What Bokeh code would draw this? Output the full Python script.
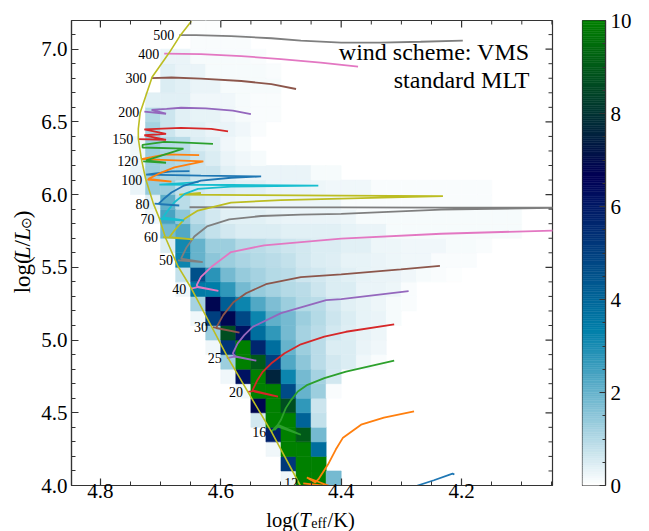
import numpy as np
from bokeh.plotting import figure
from bokeh.models import (Range1d, FixedTicker, PrintfTickFormatter,
                          LinearColorMapper, ColumnDataSource, Label)
from bokeh.layouts import row, column
from bokeh.embed import file_html
from bokeh.resources import INLINE
from bokeh.core.properties import value

# ------------------------------------------------------------------ data
# 2D histogram: columns of 0.025 dex in log Teff starting at 4.75 (going cooler),
# rows of 0.1 dex in log L starting at 4.0.  Each row: (first column, values)
HIST_T0 = 4.75
HIST_DT = 0.025
HIST_L0 = 4.0
HIST_DL = 0.1
HIST_ROWS = [
    (10, [0.2, 10, 10, 1.8]),
    (10, [5.2, 10, 10]),
    (9, [0.2, 10, 10, 3.8]),
    (9, [5.8, 10, 9.0, 1.8]),
    (8, [0.6, 10, 10, 4.1, 0.8]),
    (8, [6.8, 10, 8.7, 2.7, 0.7]),
    (7, [0.2, 10, 10, 4.7, 2.0, 1.3, 0.1]),
    (6, [0.2, 6.2, 10, 7.6, 3.2, 1.8, 1.2, 0.6]),
    (6, [1.3, 10, 9.0, 5.0, 2.3, 1.5, 0.9, 0.6, 0.5, 0.2, 0.1]),
    (5, [0.2, 5.3, 10, 5.7, 3.8, 2.0, 1.3, 0.9, 0.5, 0.5, 0.3, 0.2]),
    (5, [1.3, 8.7, 6.2, 3.8, 2.7, 1.8, 1.2, 0.9, 0.6, 0.45, 0.35, 0.25]),
    (4, [0.2, 5.0, 6.8, 4.8, 3.2, 2.1, 1.8, 1.3, 1.0, 0.7, 0.5, 0.35, 0.3, 0.15]),
    (4, [1.2, 6.8, 4.2, 3.2, 2.3, 1.7, 1.3, 1.0, 0.9, 0.6, 0.4, 0.35, 0.25, 0.15, 0.1]),
    (3, [0.2, 3.5, 3.4, 2.7, 1.8, 1.4, 1.2, 1.0, 0.9, 0.7, 0.5, 0.5, 0.3, 0.3, 0.25, 0.1]),
    (3, [0.8, 4.6, 2.8, 1.8, 1.4, 1.2, 1.0, 0.9, 0.7, 0.6, 0.5, 0.4, 0.35, 0.3, 0.3, 0.2,
         0.15, 0.1, 0.05]),
    (3, [3.2, 2.0, 1.5, 1.3, 1.1, 1.0, 0.9, 0.8, 0.6, 0.5, 0.45, 0.35, 0.35, 0.3, 0.25, 0.2,
         0.2, 0.1, 0.1, 0.1]),
    (2, [0.5, 3.1, 2.0, 1.3, 1.3, 1.0, 0.9, 0.8, 0.7, 0.6, 0.5, 0.5, 0.4, 0.4, 0.25, 0.25,
         0.2, 0.2, 0.2, 0.15, 0.15, 0.1]),
    (2, [1.8, 2.3, 1.2, 0.8, 0.6, 0.5, 0.5, 0.5, 0.4, 0.4, 0.4, 0.4, 0.35, 0.3, 0.3, 0.12,
         0.12, 0.12, 0.12, 0.12, 0.12, 0.12, 0.12, 0.12]),
    (1, [0.2, 2.4, 1.5, 0.9, 0.6, 0.4, 0.4, 0.4, 0.35, 0.3, 0.3, 0.3, 0.3, 0.25, 0.12, 0.12,
         0.12, 0.12, 0.12, 0.12, 0.12, 0.12, 0.12, 0.12, 0.12]),
    (1, [0.4, 2.1, 0.9, 0.6, 0.5, 0.3, 0.25, 0.25, 0.25, 0.25, 0.25, 0.25, 0.25, 0.1, 0.1,
         0.1, 0.1, 0.1, 0.1, 0.1, 0.1, 0.1, 0.1]),
    (0, [0.3, 1.4, 1.3, 0.8, 0.6, 0.5, 0.5, 0.4, 0.4, 0.3, 0.3, 0.3, 0.25, 0.2, 0.2, 0.2,
         0.1, 0.1, 0.1, 0.1, 0.1, 0.1, 0.1, 0.1]),
    (0, [0.3, 1.3, 1.1, 1.1, 0.7, 0.7, 0.4, 0.3, 0.3, 0.3, 0.3, 0.3, 0.15, 0.15]),
    (0, [0.2, 1.3, 1.1, 1.0, 0.7, 0.5, 0.3, 0.2, 0.15]),
    (0, [0.2, 1.3, 1.0, 0.9, 0.5, 0.4, 0.2, 0.15]),
    (1, [1.2, 0.7, 0.4, 0.4, 0.3, 0.3, 0.2, 0.1]),
    (1, [1.0, 0.7, 0.4, 0.35, 0.35, 0.2, 0.15, 0.1, 0.1]),
    (1, [0.4, 0.4, 0.4, 0.2, 0.2, 0.2, 0.15, 0.1, 0.1]),
    (2, [0.5, 0.4, 0.3, 0.3, 0.15, 0.15, 0.15, 0.15]),
    (2, [0.4, 0.3, 0.3, 0.15, 0.15, 0.15, 0.15, 0.1]),
    (2, [0.3, 0.3, 0.15, 0.15, 0.15, 0.15, 0.1]),
    (4, [0.1, 0.1, 0.1, 0.1]),
    (4, [0.05, 0.05]),
]

ZAMS_T = [4.649, 4.667, 4.686, 4.714, 4.734, 4.737, 4.737, 4.732, 4.725, 4.712, 4.702,
          4.692, 4.672, 4.649, 4.614, 4.588, 4.555, 4.516, 4.468, 4.455]
ZAMS_L = [7.192, 7.096, 6.973, 6.808, 6.562, 6.452, 6.384, 6.247, 6.110, 5.938, 5.836,
          5.705, 5.514, 5.356, 5.082, 4.877, 4.644, 4.370, 4.0, 3.93]

MASSES = [9, 12, 16, 20, 25, 30, 40, 50, 60, 70, 80, 100, 120, 150, 200, 300, 400, 500]
TRACKS = {
    9: [(4.320, 3.930), (4.273, 4.0), (4.246, 4.036), (4.215, 4.082), (4.212, 4.076)],
    12: [(4.463, 4.014), (4.417, 3.993), (4.457, 4.055), (4.443, 4.021), (4.437, 4.048),
         (4.422, 4.144), (4.409, 4.247), (4.397, 4.329), (4.367, 4.418), (4.329, 4.466),
         (4.279, 4.509)],
    16: [(4.516, 4.370), (4.505, 4.418), (4.467, 4.349), (4.505, 4.405), (4.511, 4.380),
         (4.500, 4.452), (4.492, 4.532), (4.483, 4.589), (4.472, 4.646), (4.456, 4.692),
         (4.428, 4.738), (4.392, 4.783), (4.312, 4.858)],
    20: [(4.555, 4.644), (4.544, 4.650), (4.505, 4.611), (4.544, 4.646), (4.547, 4.658),
         (4.539, 4.726), (4.530, 4.783), (4.516, 4.840), (4.494, 4.909), (4.467, 4.971),
         (4.428, 5.023), (4.392, 5.057), (4.312, 5.108)],
    25: [(4.590, 4.875), (4.577, 4.886), (4.541, 4.858), (4.577, 4.890), (4.580, 4.909),
         (4.572, 4.977), (4.561, 5.034), (4.547, 5.091), (4.500, 5.185), (4.425, 5.274),
         (4.400, 5.281), (4.288, 5.336)],
    30: [(4.613, 5.089), (4.569, 5.051), (4.608, 5.082), (4.596, 5.171), (4.579, 5.260),
         (4.558, 5.322), (4.525, 5.384), (4.467, 5.432), (4.400, 5.452), (4.301, 5.486),
         (4.236, 5.510)],
    40: [(4.649, 5.354), (4.637, 5.365), (4.604, 5.338), (4.637, 5.362), (4.640, 5.377),
         (4.633, 5.434), (4.616, 5.502), (4.583, 5.605), (4.528, 5.651), (4.400, 5.697),
         (4.234, 5.731), (4.049, 5.753), (3.969, 5.760)],
    50: [(4.671, 5.548), (4.630, 5.536), (4.666, 5.560), (4.657, 5.637), (4.644, 5.712),
         (4.623, 5.781), (4.586, 5.829), (4.533, 5.853), (4.467, 5.863), (4.400, 5.868),
         (4.234, 5.897), (4.049, 5.909), (3.969, 5.911), (4.234, 5.911), (4.400, 5.912),
         (4.652, 5.913)],
    60: [(4.696, 5.708), (4.646, 5.692), (4.685, 5.708), (4.677, 5.753), (4.660, 5.834),
         (4.638, 5.890), (4.583, 5.945), (4.500, 5.962), (4.400, 5.973), (4.231, 5.990),
         (4.400, 5.993), (4.550, 5.997), (4.669, 6.000), (4.633, 6.011)],
    70: [(4.702, 5.834), (4.661, 5.822), (4.696, 5.844), (4.688, 5.890), (4.677, 5.947),
         (4.660, 6.005), (4.638, 6.039), (4.583, 6.055), (4.438, 6.062), (4.583, 6.066),
         (4.702, 6.068), (4.637, 6.086)],
    80: [(4.710, 5.938), (4.669, 5.925), (4.704, 5.935), (4.696, 5.966), (4.682, 6.014),
         (4.661, 6.062), (4.633, 6.096), (4.583, 6.116), (4.533, 6.125), (4.633, 6.130),
         (4.724, 6.137), (4.682, 6.160), (4.652, 6.161)],
    100: [(4.722, 6.103), (4.682, 6.089), (4.720, 6.108), (4.704, 6.142), (4.677, 6.187),
          (4.629, 6.228), (4.732, 6.244), (4.715, 6.257), (4.691, 6.277), (4.636, 6.272)],
    120: [(4.729, 6.229), (4.691, 6.219), (4.724, 6.236), (4.662, 6.316), (4.730, 6.324),
          (4.730, 6.342), (4.694, 6.363), (4.649, 6.356), (4.613, 6.349)],
    150: [(4.737, 6.381), (4.691, 6.377), (4.727, 6.408), (4.691, 6.418), (4.727, 6.449),
          (4.666, 6.459), (4.616, 6.452), (4.588, 6.435)],
    200: [(4.727, 6.570), (4.691, 6.556), (4.715, 6.583), (4.690, 6.590), (4.666, 6.597),
          (4.625, 6.593), (4.580, 6.578), (4.550, 6.553)],
    300: [(4.715, 6.801), (4.682, 6.805), (4.633, 6.798), (4.566, 6.781), (4.516, 6.760),
          (4.475, 6.726)],
    400: [(4.694, 6.969), (4.633, 6.966), (4.566, 6.952), (4.500, 6.932), (4.434, 6.908),
          (4.372, 6.880)],
    500: [(4.669, 7.096), (4.641, 7.096), (4.583, 7.089), (4.516, 7.075), (4.467, 7.058),
          (4.400, 7.045), (4.334, 7.045), (4.268, 7.051), (4.198, 7.058)],
}
TAB10 = ["#1f77b4", "#ff7f0e", "#2ca02c", "#d62728", "#9467bd",
         "#8c564b", "#e377c2", "#7f7f7f", "#bcbd22", "#17becf"]

X_RANGE = (4.848, 4.049)
Y_RANGE = (4.0, 7.197)
X_TICKS = [4.8, 4.6, 4.4, 4.2]
X_MINOR = [4.05, 4.1, 4.15, 4.25, 4.3, 4.35, 4.45, 4.5, 4.55, 4.65, 4.7, 4.75, 4.85]
Y_TICKS = [4.0, 4.5, 5.0, 5.5, 6.0, 6.5, 7.0]
Y_MINOR = [4.1, 4.2, 4.3, 4.4, 4.6, 4.7, 4.8, 4.9, 5.1, 5.2, 5.3, 5.4, 5.6, 5.7, 5.8,
           5.9, 6.1, 6.2, 6.3, 6.4, 6.6, 6.7, 6.8, 6.9, 7.1]
CB_TICKS = [0, 2, 4, 6, 8, 10]
CB_MINOR = [0.5, 1, 1.5, 2.5, 3, 3.5, 4.5, 5, 5.5, 6.5, 7, 7.5, 8.5, 9, 9.5]
NOTE_LINES = ["wind scheme: VMS", "standard MLT"]

# ------------------------------------------------------------------ colormap (ocean_r)
def ocean_r(n=256):
    out = []
    for i in range(n):
        x = 1.0 - i / (n - 1)
        r = min(max(3 * x - 2, 0), 1)
        g = min(max(abs((3 * x - 1) / 2), 0), 1)
        b = x
        out.append("#%02x%02x%02x" % (int(round(r * 255)), int(round(g * 255)),
                                      int(round(b * 255))))
    return out

PAL = ocean_r()
mapper = LinearColorMapper(palette=PAL, low=0, high=10)

FONT = "Liberation Serif"
AX = "#333333"
TOP_H = 508     # height of the row holding the plot and the colour bar

def strip(w, h):
    f = figure(width=w, height=h, output_backend="svg", toolbar_location=None,
               x_range=Range1d(0, w), y_range=Range1d(0, h),
               min_border=0, x_axis_location=None, y_axis_location=None,
               background_fill_color="white", border_fill_color="white")
    f.grid.visible = False
    f.outline_line_color = None
    return f

def put(f, text, x, y, size, style="normal", angle=0.0, align="left"):
    f.text(x=[x], y=[y], text=[text], text_font=value(FONT), text_font_size=size,
           text_font_style=style, angle=angle, text_align=align,
           text_baseline="middle", text_color="black")

# ------------------------------------------------------------------ main figure
p = figure(width=524, height=TOP_H, output_backend="svg", toolbar_location=None,
           x_range=Range1d(*X_RANGE), y_range=Range1d(*Y_RANGE),
           min_border_left=32, min_border_right=10, min_border_top=20,
           min_border_bottom=TOP_H - 486,
           background_fill_color="white", border_fill_color="white")
p.grid.visible = False
p.outline_line_color = AX
p.outline_line_width = 1.2

# histogram cells
left, right, bottom, top, val = [], [], [], [], []
for r, (c0, vals) in enumerate(HIST_ROWS):
    for j, v in enumerate(vals):
        if v <= 0:
            continue
        c = c0 + j
        left.append(HIST_T0 - HIST_DT * c)
        right.append(HIST_T0 - HIST_DT * (c + 1))
        bottom.append(HIST_L0 + HIST_DL * r)
        top.append(HIST_L0 + HIST_DL * (r + 1))
        val.append(v)
hsrc = ColumnDataSource(dict(left=left, right=right, bottom=bottom, top=top, v=val))
p.quad(left="left", right="right", bottom="bottom", top="top", source=hsrc,
       fill_color={"field": "v", "transform": mapper},
       line_color={"field": "v", "transform": mapper}, line_width=0.6)

# tracks
lab_t, lab_l, lab_txt = [], [], []
for i, m in enumerate(MASSES):
    pts = TRACKS[m]
    xs = [a for a, b in pts]
    ys = [b for a, b in pts]
    p.line(xs, ys, line_color=TAB10[i % 10], line_width=1.8)
    if ys[0] >= Y_RANGE[0]:
        lab_t.append(xs[0]); lab_l.append(ys[0]); lab_txt.append(str(m))

# ZAMS
p.line(ZAMS_T, ZAMS_L, line_color="#bcbd22", line_width=1.6)

# mass labels
lsrc = ColumnDataSource(dict(x=lab_t, y=lab_l, t=lab_txt))
p.text(x="x", y="y", text="t", source=lsrc, text_font=value(FONT), text_font_size="14px",
       text_align="right", text_baseline="middle", x_offset=-5, text_color="black")

# axes (bottom / left) with inward ticks
def style_axis(ax, standoff=4):
    ax.axis_line_color = AX
    ax.axis_line_width = 1.2
    ax.major_tick_line_color = AX
    ax.minor_tick_line_color = AX
    ax.major_tick_line_width = 1.2
    ax.minor_tick_line_width = 1.0
    ax.major_tick_in = 7
    ax.major_tick_out = 0
    ax.minor_tick_in = 4
    ax.minor_tick_out = 0
    ax.major_label_text_font = FONT
    ax.major_label_text_color = "black"
    ax.major_label_text_font_size = "21px"
    ax.major_label_standoff = standoff

p.xaxis.ticker = FixedTicker(ticks=X_TICKS, minor_ticks=X_MINOR)
p.yaxis.ticker = FixedTicker(ticks=Y_TICKS, minor_ticks=Y_MINOR)
p.xaxis.formatter = PrintfTickFormatter(format="%.1f")
p.yaxis.formatter = PrintfTickFormatter(format="%.1f")
style_axis(p.xaxis[0], -2)
style_axis(p.yaxis[0], 4)

# inward ticks on the top and right edges
p.ray(x=X_TICKS, y=[Y_RANGE[1]] * len(X_TICKS), length=7, length_units="screen",
      angle=-np.pi / 2, line_color=AX, line_width=1.2)
p.ray(x=X_MINOR, y=[Y_RANGE[1]] * len(X_MINOR), length=4, length_units="screen",
      angle=-np.pi / 2, line_color=AX, line_width=1.0)
p.ray(x=[X_RANGE[1]] * len(Y_TICKS), y=Y_TICKS, length=7, length_units="screen",
      angle=np.pi, line_color=AX, line_width=1.2)
p.ray(x=[X_RANGE[1]] * len(Y_MINOR), y=Y_MINOR, length=4, length_units="screen",
      angle=np.pi, line_color=AX, line_width=1.0)

# note in the upper right
for k, txt in enumerate(NOTE_LINES):
    p.add_layout(Label(x=458, y=434 - 28 * k, x_units="screen", y_units="screen", text=txt,
                       text_font=FONT, text_font_size="24px", text_align="right",
                       text_baseline="middle", text_color="black"))

# ------------------------------------------------------------------ colorbar
cb = figure(width=87, height=TOP_H, output_backend="svg", toolbar_location=None,
            x_range=Range1d(0, 1), y_range=Range1d(0, 10),
            x_axis_location=None, y_axis_location="right",
            min_border_left=20, min_border_right=44, min_border_top=20,
            min_border_bottom=TOP_H - 485,
            background_fill_color="white", border_fill_color="white")
cb.grid.visible = False
cb.outline_line_color = AX
cb.outline_line_width = 1.2
n = len(PAL)
levels = [10.0 * k / n for k in range(n + 1)]
cb.quad(left=0, right=1, bottom=levels[:-1], top=levels[1:], fill_color=PAL,
        line_color=PAL, line_width=0.5)
cb.yaxis.ticker = FixedTicker(ticks=CB_TICKS, minor_ticks=CB_MINOR)
cb.yaxis.formatter = PrintfTickFormatter(format="%d")
style_axis(cb.yaxis[0], 5)
cb.yaxis.major_tick_in = 6
cb.yaxis.minor_tick_in = 3

# ------------------------------------------------------------------ axis titles
ys = strip(38, TOP_H)          # y title, rotated (positions from the strip's bottom)
A = np.pi / 2
put(ys, "log(", 22, 210.0, "23px", angle=A)
put(ys, "L", 22, 247.1, "23px", style="italic", angle=A)
put(ys, "/", 22, 261.0, "23px", angle=A)
put(ys, "L", 22, 267.4, "23px", style="italic", angle=A)
put(ys, "\u2299", 26, 280.2, "14px", angle=A)
put(ys, ")", 22, 291.9, "23px", angle=A)

XT_H = 531 - TOP_H
xs_ = strip(649, XT_H)         # x title
put(xs_, "log(", 265.7, 11.5, "20.5px")
put(xs_, "T", 298.7, 11.5, "20.5px", style="italic")
put(xs_, "eff", 310.8, 8.0, "14px")
put(xs_, "/K)", 327.0, 11.5, "20.5px")

layout = column(row(ys, p, cb), xs_)
open("out.html", "w").write(file_html(layout, INLINE))
